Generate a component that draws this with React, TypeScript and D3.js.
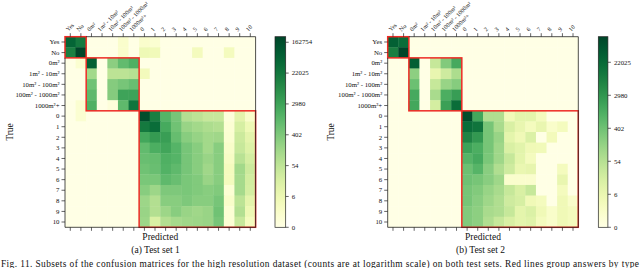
import React from "react";
import * as d3 from "d3";

const categories = [
  "Yes", "No", "0m²", "1m² - 10m²", "10m² - 100m²", "100m² - 1000m²", "1000m²+",
  "0", "1", "2", "3", "4", "5", "6", "7", "8", "9", "10",
];
const groupBounds: [number, number][] = [[0, 2], [2, 7], [7, 18]];

// log(1 + count) per cell, rows = true, cols = predicted
const logCountsSet1: number[][] = [
  [10.9, 9.9, 0, 0, 0, 0.9, 0, 0.9, 0.7, 0, 0, 0, 0, 0, 0, 0, 0, 0],
  [9.6, 12.36, 0, 0, 0, 0.9, 0, 1.9, 1.7, 0, 0, 0, 1.5, 0, 0, 1.5, 0, 0],
  [0, 0.7, 11.1, 0, 5.6, 6.8, 7.4, 0, 0, 0, 0, 0, 0, 0, 0, 0, 0, 0],
  [0, 0, 4.9, 0, 4.1, 4.1, 4.3, 1.6, 0, 0, 0, 0, 0, 0, 0, 0, 0, 0],
  [0, 0, 6.4, 0, 5.8, 6.2, 6.6, 0, 0, 0, 0, 0, 0, 0, 0, 0, 0, 0],
  [0, 0, 6.9, 0, 5.8, 8.0, 8.0, 0, 0, 0, 0, 0, 0, 0, 0, 0, 0, 0],
  [0, 0.7, 7.4, 0, 0.4, 6.9, 10.1, 0, 0, 0, 0, 0, 0, 0, 0, 0, 0, 0],
  [0, 0.7, 0, 0, 0, 0, 0, 12.0, 9.6, 7.2, 6.2, 4.4, 4.1, 3.7, 3.7, 0.4, 2.5, 1.0],
  [0, 0, 0, 0, 0, 0, 0, 9.9, 10.5, 7.7, 6.4, 5.2, 4.9, 4.6, 4.4, 0.6, 3.1, 1.9],
  [0, 0, 0, 0, 0, 0, 0, 7.8, 8.4, 8.2, 6.7, 5.7, 5.3, 4.9, 5.0, 0.7, 3.5, 2.5],
  [0, 0, 0, 0, 0, 0, 0, 6.8, 7.5, 7.9, 7.2, 6.2, 5.7, 4.9, 5.7, 1.0, 3.7, 2.8],
  [0, 0, 0, 0, 0, 0, 0, 6.6, 6.7, 7.4, 7.2, 6.2, 5.7, 5.2, 5.7, 1.2, 4.2, 3.2],
  [0, 0, 0, 0, 0, 0, 0, 6.4, 6.6, 7.3, 6.9, 6.2, 5.7, 5.0, 5.7, 1.5, 4.9, 3.5],
  [0, 0, 0, 0, 0, 0, 0, 6.1, 6.1, 6.9, 6.6, 6.1, 5.9, 5.2, 5.7, 1.5, 4.8, 3.3],
  [0, 0, 0, 0, 0, 0, 0, 5.7, 5.1, 6.0, 6.0, 6.1, 5.9, 5.7, 5.9, 0.6, 4.8, 3.2],
  [0, 0, 0, 0, 0, 0, 0, 5.1, 4.4, 5.7, 5.7, 6.0, 5.7, 5.7, 6.2, 1.0, 4.1, 2.5],
  [0, 0, 0, 0, 0, 0, 0, 5.2, 4.4, 5.1, 5.7, 5.2, 5.0, 5.2, 6.4, 0.6, 4.4, 2.0],
  [0, 0, 0, 0, 0, 0, 0, 5.1, 3.0, 4.4, 4.8, 5.0, 5.1, 5.2, 6.2, 0.6, 3.7, 1.5],
];

const logCountsSet2: number[][] = [
  [10.4, 9.8, 0, 0, 0, 0, 0, 0, 0, 0, 0, 0, 0, 0, 0, 0, 0, 0],
  [9.0, 11.55, 0, 0, 0, 0, 0, 0, 0, 0, 0, 0, 0, 0, 0, 0, 0, 0],
  [0, 0, 10.4, 0, 3.5, 5.5, 7.2, 0, 0, 0, 0, 0, 0, 0, 0, 0, 0, 0],
  [0, 0, 5.2, 0, 2.1, 3.2, 4.3, 0, 0, 0, 0, 0, 0, 0, 0, 0, 0, 0],
  [0, 0, 6.1, 0, 3.5, 4.9, 5.4, 0, 0, 0, 0, 0, 0, 0, 0, 0, 0, 0],
  [0, 0, 7.2, 0, 4.4, 7.0, 7.7, 0, 0, 0, 0, 0, 0, 0, 0, 0, 0, 0],
  [0, 0, 7.3, 0, 3.0, 7.6, 9.8, 0, 0, 0, 0, 0, 0, 0, 0, 0, 0, 0],
  [0, 0, 0, 0, 0, 0, 0, 11.2, 7.3, 4.2, 4.2, 1.6, 2.3, 2.3, 1.4, 0, 0, 0],
  [0, 0, 0, 0, 0, 0, 0, 9.8, 9.5, 5.8, 4.4, 2.8, 2.1, 1.4, 2.1, 0.9, 1.4, 0],
  [0, 0, 0, 0, 0, 0, 0, 8.8, 7.9, 5.8, 4.9, 2.3, 1.7, 2.7, 0, 1.5, 0, 0],
  [0, 0, 0, 0, 0, 0, 0, 7.5, 7.0, 5.8, 4.7, 2.8, 2.4, 1.7, 1.6, 0, 0, 0],
  [0, 0, 0, 0, 0, 0, 0, 6.7, 7.2, 5.7, 4.7, 3.5, 2.3, 1.4, 0, 0, 0, 0],
  [0, 0, 0, 0, 0, 0, 0, 6.1, 6.7, 5.3, 4.2, 3.2, 2.0, 2.2, 0, 0, 1.4, 0],
  [0, 0, 0, 0, 0, 0, 0, 6.0, 5.8, 5.3, 4.7, 0.8, 0.8, 0.8, 0, 0, 2.1, 0],
  [0, 0, 0, 0, 0, 0, 0, 5.8, 5.5, 4.9, 4.4, 3.5, 2.8, 3.5, 0, 0, 1.4, 0],
  [0, 0, 0, 0, 0, 0, 0, 5.8, 5.3, 4.7, 4.2, 3.2, 2.9, 1.7, 1.4, 0, 1.7, 0.9],
  [0, 0, 0, 0, 0, 0, 0, 5.5, 5.2, 4.4, 4.2, 3.5, 2.3, 2.7, 1.7, 0.9, 1.7, 1.4],
  [0, 0, 0, 0, 0, 0, 0, 5.5, 5.2, 4.2, 3.5, 2.8, 2.3, 2.5, 1.4, 0.9, 1.7, 1.4],
];

const colorbarTickExponents = [0, 2, 4, 6, 8, 10, 12];
const subCaptions = ["(a) Test set 1", "(b) Test set 2"];
const axisLabelX = "Predicted";
const axisLabelY = "True";
const figureCaption =
  "Fig. 11.  Subsets of the confusion matrices for the high resolution dataset (counts are at logarithm scale) on both test sets. Red lines group answers by type";

const FONT = "'Liberation Serif', 'Times New Roman', serif";
const RED = "#ee2b25";

type PanelProps = {
  id: string;
  data: number[][];
  x0: number;
  y0: number;
  size: number;
  cbX: number;
  cbW: number;
  capX: number;
  trueX: number;
  caption: string;
};

function Panel({ id, data, x0, y0, size, cbX, cbW, capX, trueX, caption }: PanelProps) {
  const n = categories.length;
  const band = d3.scaleBand<number>().domain(d3.range(n)).range([x0, x0 + size]);
  const bandY = d3.scaleBand<number>().domain(d3.range(n)).range([y0, y0 + size]);
  const vmax = d3.max(data.flat()) as number;
  const color = d3.scaleSequential(d3.interpolateYlGn).domain([0, vmax]);
  const cbScale = d3.scaleLinear().domain([0, vmax]).range([y0 + size, y0]);
  const bw = band.bandwidth();
  const xEnd = x0 + size;
  const yEnd = y0 + size;
  const stops = d3.range(0, 1.0001, 0.05);
  const cx = x0 + size / 2;
  return (
    <g>
      <defs>
        <linearGradient id={`grad-${id}`} x1="0" y1="1" x2="0" y2="0">
          {stops.map((s) => (
            <stop key={s} offset={s} stopColor={d3.interpolateYlGn(s)} />
          ))}
        </linearGradient>
      </defs>
      {data.map((row, i) =>
        row.map((v, j) => (
          <rect
            key={`${i}-${j}`}
            x={band(j)}
            y={bandY(i)}
            width={bw + 0.4}
            height={bw + 0.4}
            fill={color(v)}
          />
        ))
      )}
      {groupBounds.map(([a, b], k) => (
        <rect
          key={k}
          x={band(a)}
          y={bandY(a)}
          width={(b - a) * bw}
          height={(b - a) * bw}
          fill="none"
          stroke={RED}
          strokeWidth={1.5}
        />
      ))}
      <line x1={x0} x2={x0} y1={y0 + 2 * bw} y2={yEnd} stroke="#222" strokeWidth={0.8} />
      <line x1={x0 + 2 * bw} x2={xEnd} y1={y0} y2={y0} stroke="#222" strokeWidth={0.8} />
      <line x1={xEnd} x2={xEnd} y1={y0} y2={yEnd} stroke="#222" strokeWidth={0.8} />
      <line x1={x0} x2={xEnd} y1={yEnd} y2={yEnd} stroke="#222" strokeWidth={0.8} />
      {categories.map((c, i) => {
        const cxp = (band(i) as number) + bw / 2;
        const cyp = (bandY(i) as number) + bw / 2;
        return (
          <g key={c}>
            <line x1={x0 - 3.5} x2={x0} y1={cyp} y2={cyp} stroke="#222" strokeWidth={0.7} />
            <line x1={cxp} x2={cxp} y1={y0 - 3.5} y2={y0} stroke="#222" strokeWidth={0.7} />
            <line x1={cxp} x2={cxp} y1={yEnd} y2={yEnd + 3.5} stroke="#222" strokeWidth={0.7} />
            <text
              x={x0 - 5.5}
              y={cyp}
              dy="0.33em"
              textAnchor="end"
              fontSize={6.8}
              fontFamily={FONT}
              fill="#111"
            >
              {c}
            </text>
            <text
              transform={`translate(${cxp - 2},${y0 - 5}) rotate(-45)`}
              textAnchor="start"
              fontSize={6}
              fontFamily={FONT}
              fill="#111"
            >
              {c}
            </text>
          </g>
        );
      })}
      <text x={cx} y={yEnd + 12.5} textAnchor="middle" fontSize={9.5} fontFamily={FONT} fill="#111">
        {axisLabelX}
      </text>
      <text
        transform={`translate(${trueX},${y0 + size / 2}) rotate(-90)`}
        textAnchor="middle"
        fontSize={9.5}
        fontFamily={FONT}
        fill="#111"
      >
        {axisLabelY}
      </text>
      <rect x={cbX} y={y0} width={cbW} height={size} fill={`url(#grad-${id})`} stroke="#222" strokeWidth={0.7} />
      {colorbarTickExponents
        .filter((k) => k <= vmax)
        .map((k) => {
          const ty = cbScale(k);
          return (
            <g key={k}>
              <line x1={cbX + cbW} x2={cbX + cbW + 3} y1={ty} y2={ty} stroke="#222" strokeWidth={0.7} />
              <text
                x={cbX + cbW + 6}
                y={ty}
                dy="0.33em"
                fontSize={6.8}
                fontFamily={FONT}
                fill="#111"
              >
                {Math.round(Math.exp(k) - 1)}
              </text>
            </g>
          );
        })}
      <text x={capX} y={252.5} textAnchor="middle" fontSize={9.5} fontFamily={FONT} fill="#111">
        {caption}
      </text>
    </g>
  );
}

export default function App() {
  return (
    <svg
      width={640}
      height={268}
      style={{ position: "absolute", left: 0, top: 0, background: "#fff" }}
    >
      <rect width={640} height={268} fill="#fff" />
      <Panel
        id="a"
        data={logCountsSet1}
        x0={65}
        y0={36.7}
        size={190.6}
        cbX={275}
        cbW={10.7}
        capX={155.5}
        trueX={12.5}
        caption={subCaptions[0]}
      />
      <Panel
        id="b"
        data={logCountsSet2}
        x0={387.7}
        y0={36.7}
        size={190.6}
        cbX={598.3}
        cbW={9.6}
        capX={480.5}
        trueX={334}
        caption={subCaptions[1]}
      />
      <text x={1} y={266.5} fontSize={9.4} fontFamily={FONT} fill="#111" textLength={638} lengthAdjust="spacing">
        {figureCaption}
      </text>
    </svg>
  );
}
